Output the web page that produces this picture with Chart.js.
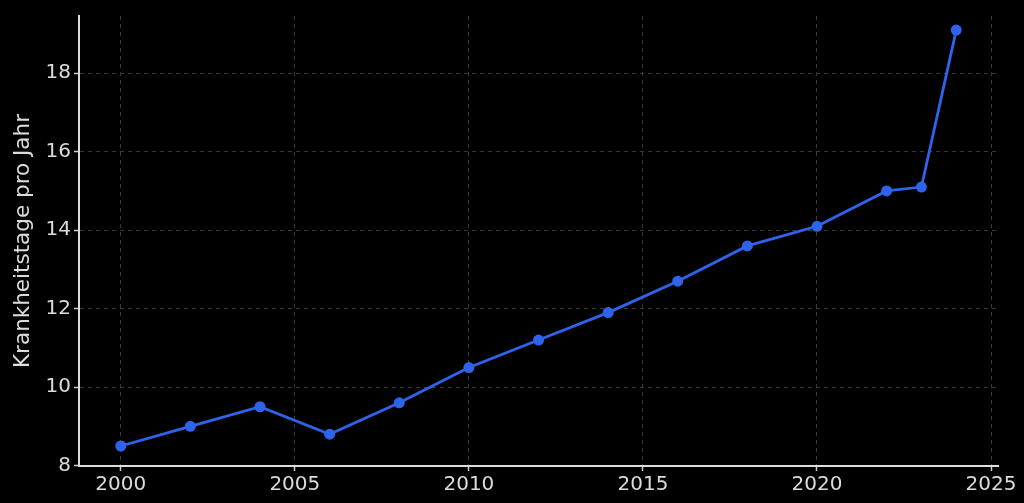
<!DOCTYPE html>
<html>
<head>
<meta charset="utf-8">
<script src="https://cdn.jsdelivr.net/npm/chart.js@4"></script>
<style>
  html, body { margin: 0; padding: 0; background: #000; }
  #wrap { width: 1024px; height: 503px; }
</style>
</head>
<body>
<div id="wrap"><canvas id="sick_chart"></canvas></div>
<script>
// years and sick days per year
const years = [2000, 2002, 2004, 2006, 2008, 2010, 2012, 2014, 2016, 2018, 2020, 2022, 2023, 2024];
const sickDays = [8.5, 9.0, 9.5, 8.8, 9.6, 10.5, 11.2, 11.9, 12.7, 13.6, 14.1, 15.0, 15.1, 19.1];
const xTicks = [2000, 2005, 2010, 2015, 2020, 2025];
const yTicks = [8, 10, 12, 14, 16, 18];
const yTitle = 'Krankheitstage pro Jahr';

const points = years.map(function (y, i) { return { x: y, y: sickDays[i] }; });

const textColor = '#dcdcdc';
const gridColor = '#3a3a3a';
const font = { family: 'DejaVu Sans', size: 20 };

const sickChart = new Chart(document.getElementById('sick_chart'), {
    type: 'line',
    data: {
        datasets: [{
            data: points,
            borderColor: '#2e63ec',
            backgroundColor: '#2e63ec',
            borderWidth: 2.8,
            pointRadius: 5.5,
            pointHoverRadius: 5.5,
            pointBorderWidth: 0,
            tension: 0,
            fill: false
        }]
    },
    options: {
        responsive: true,
        maintainAspectRatio: false,
        animation: false,
        layout: { padding: { left: 0, top: 16, right: 26, bottom: 0 } },
        plugins: { legend: { display: false }, tooltip: { enabled: false } },
        scales: {
            x: {
                type: 'linear',
                min: 1998.8,
                max: 2025.2,
                afterBuildTicks: function (axis) {
                    axis.ticks = xTicks.map(function (v) { return { value: v }; });
                },
                afterFit: function (axis) { axis.height = 37; },
                ticks: {
                    color: textColor,
                    font: font,
                    padding: 2,
                    maxRotation: 0,
                    callback: function (v) { return String(v); }
                },
                grid: {
                    color: gridColor,
                    lineWidth: 1,
                    drawTicks: true,
                    tickLength: 5,
                    tickColor: '#cccccc',
                    tickWidth: 1.5
                },
                border: { display: true, color: '#dddddd', width: 2, dash: [4, 4] }
            },
            y: {
                min: 7.99,
                max: 19.46,
                afterBuildTicks: function (axis) {
                    axis.ticks = yTicks.map(function (v) { return { value: v }; });
                },
                afterFit: function (axis) { axis.width = 79; },
                ticks: {
                    color: textColor,
                    font: font,
                    padding: 3,
                    callback: function (v) { return String(v); }
                },
                grid: {
                    color: gridColor,
                    lineWidth: 1,
                    drawTicks: true,
                    tickLength: 5,
                    tickColor: '#cccccc',
                    tickWidth: 1.5
                },
                border: { display: true, color: '#dddddd', width: 2, dash: [4, 4] },
                title: {
                    display: true,
                    text: yTitle,
                    color: textColor,
                    font: { family: 'DejaVu Sans', size: 21.5 },
                    padding: { top: 11, bottom: 0 }
                }
            }
        }
    }
});
</script>
</body>
</html>
